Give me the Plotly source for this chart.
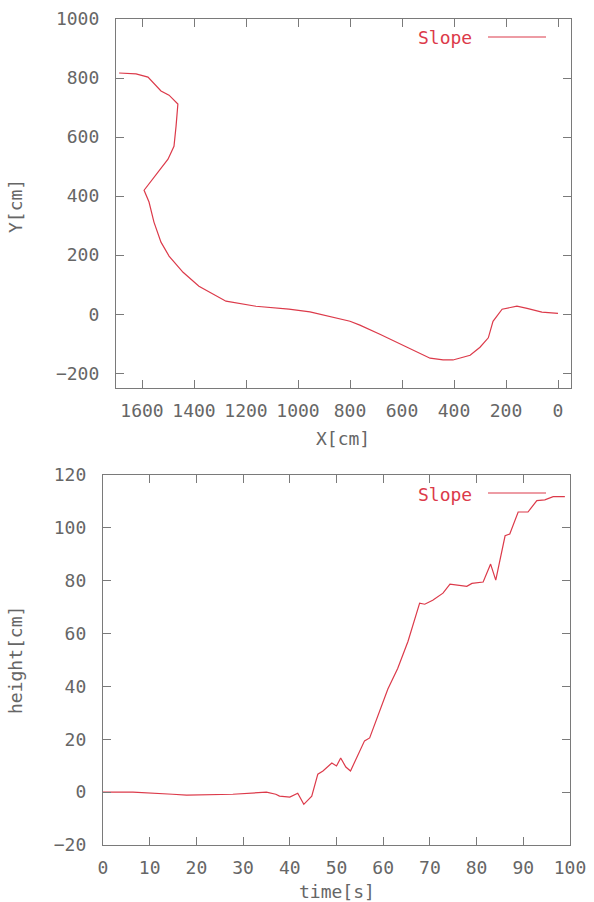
import plotly.graph_objects as go

# Top plot: trajectory (X, Y in cm)
traj_x = [1688, 1623, 1577, 1546, 1527, 1496, 1462, 1469, 1477, 1500, 1535, 1565, 1592,
          1573, 1554, 1527, 1496, 1442, 1381, 1277, 1162, 1035, 954,
          800, 762, 685, 581, 492, 442, 404, 338, 300, 268, 262, 265, 250, 215,
          158, 119, 62, 0]
traj_y = [817, 814, 803, 773, 756, 742, 712, 637, 569, 525, 485, 447, 420,
          380, 312, 244, 197, 142, 95, 44, 27, 17, 8,
          -24, -37, -68, -112, -149, -155, -155, -139, -112, -80, -60, -68, -24, 17,
          27, 20, 7, 3]

# Bottom plot: height vs time
time_s = [0, 6.4, 14.9, 17.9, 27.8, 35, 37, 37.8, 40, 41.7, 43, 44.7, 46, 47.1, 49,
          50, 50.9, 52, 53, 55, 56, 57.1, 58.6, 61, 63.1, 65.3, 67.8, 68.9,
          70.6, 72.8, 74.3, 76.4, 77.9, 79, 81.4, 83, 84.1, 86.1, 87.1,
          88.9, 91, 92.9, 94.6, 96.4, 98.9]
height_cm = [0, 0, -0.8, -1.1, -0.8, 0, -0.8, -1.5, -1.9, -0.4, -4.6, -1.5, 6.8, 8, 11,
             9.9, 12.9, 9.5, 8, 15.2, 19.4, 20.5, 27.8, 39, 46.8, 57, 71.5, 71.1,
             72.6, 75.3, 78.7, 78.3, 77.9, 79, 79.5, 86.3, 80.2, 97, 97.7,
             106, 106, 110.3, 110.6, 111.8, 111.8]

W, H = 594, 902
RED = "#dc3a4a"
TXT = "#666666"
AX = "#7a7a7a"
FONT = "DejaVu Sans Mono"
FS = 18

fig = go.Figure()
fig.add_trace(go.Scatter(x=traj_x, y=traj_y, mode="lines", line=dict(color=RED, width=1.2),
                         xaxis="x", yaxis="y", showlegend=False))
fig.add_trace(go.Scatter(x=time_s, y=height_cm, mode="lines", line=dict(color=RED, width=1.2),
                         xaxis="x2", yaxis="y2", showlegend=False))

def px(v):
    return v / W

def py(v):
    return 1 - v / H

axis_common = dict(showline=True, linecolor=AX, linewidth=1.2, mirror="ticks",
                   ticks="inside", ticklen=8, tickcolor=AX, tickwidth=1.2,
                   showgrid=False, zeroline=False, automargin=False,
                   tickfont=dict(family=FONT, size=FS, color=TXT))

fig.update_layout(
    width=W, height=H, margin=dict(l=0, r=0, t=0, b=0, pad=0, autoexpand=False),
    paper_bgcolor="white", plot_bgcolor="white", showlegend=False,
    xaxis=dict(domain=[px(116), px(571)], anchor="y", range=[1700, -50],
               tickvals=[1600, 1400, 1200, 1000, 800, 600, 400, 200, 0],
               ticklabelstandoff=6, **axis_common),
    yaxis=dict(domain=[py(388), py(19)], anchor="x", range=[-250, 1000],
               tickvals=[-200, 0, 200, 400, 600, 800, 1000],
               ticklabelstandoff=12, **axis_common),
    xaxis2=dict(domain=[px(103), px(570)], anchor="y2", range=[0, 100],
                tickvals=list(range(0, 101, 10)),
                ticklabelstandoff=6, **axis_common),
    yaxis2=dict(domain=[py(845), py(475)], anchor="x2", range=[-20, 120],
                tickvals=list(range(-20, 121, 20)),
                ticklabelstandoff=12, **axis_common),
)

def label(text, x, y, angle=0, color=TXT, xanchor="center"):
    fig.add_annotation(text=text, x=px(x), y=py(y), xref="paper", yref="paper",
                       xanchor=xanchor, yanchor="middle", textangle=angle,
                       showarrow=False, font=dict(family=FONT, size=FS, color=color))

label("Y[cm]", 15, 206, -90)
label("X[cm]", 343, 438)
label("height[cm]", 15, 660, -90)
label("time[s]", 337, 891)

# legends
for ly in (38, 494):
    label("Slope", 474, ly, color=RED, xanchor="right")
    fig.add_shape(type="line", x0=px(488), x1=px(546), y0=py(ly - 1), y1=py(ly - 1),
                  xref="paper", yref="paper", line=dict(color=RED, width=1.2))

fig.write_html("out.html", config={"displayModeBar": False},
               post_script="document.body.style.margin='0';document.body.style.overflow='hidden';")
